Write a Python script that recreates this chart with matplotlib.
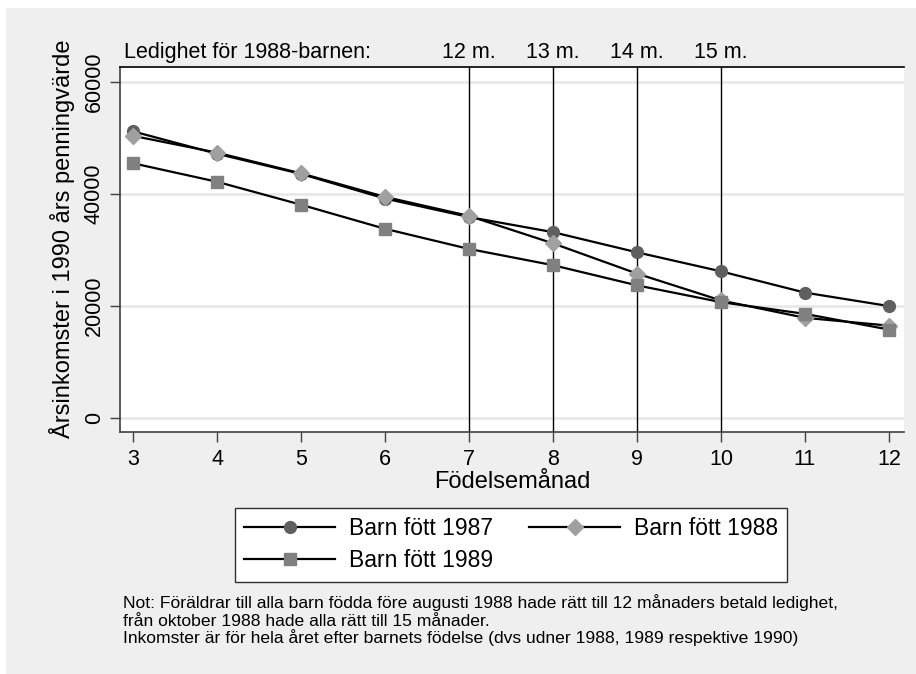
import matplotlib
matplotlib.use("Agg")
import matplotlib.pyplot as plt
from matplotlib.patches import Rectangle
import numpy as np

plt.rcParams["font.family"] = ["Liberation Sans", "DejaVu Sans"]

# data
months = [3, 4, 5, 6, 7, 8, 9, 10, 11, 12]
inc_1987 = [51200, 47200, 43600, 39200, 35900, 33200, 29600, 26200, 22400, 20000]
inc_1988 = [50400, 47400, 43700, 39500, 36100, 31200, 25800, 21000, 17900, 16500]
inc_1989 = [45500, 42200, 38100, 33800, 30200, 27300, 23700, 20700, 18600, 15800]
leave_months = [7, 8, 9, 10]
leave_labels = ["12 m.", "13 m.", "14 m.", "15 m."]
yticks = [0, 20000, 40000, 60000]
note_lines = [
    "Not: Föräldrar till alla barn födda före augusti 1988 hade rätt till 12 månaders betald ledighet,",
    "från oktober 1988 hade alla rätt till 15 månader.",
    "Inkomster är för hela året efter barnets födelse (dvs udner 1988, 1989 respektive 1990)",
]

fs = 15.5
W, H = 916, 674
fig = plt.figure(figsize=(W / 100, H / 100), dpi=100, facecolor="white")
bg = "#efefef"
fig.patches.append(Rectangle((6 / W, 0), 1, 1 - 8 / H, transform=fig.transFigure,
                             facecolor=bg, edgecolor="none", zorder=-10))

# axes in pixel coordinates
L, R, T, B = 120, 904, 67, 432
ax = fig.add_axes([L / W, 1 - B / H, (R - L) / W, (B - T) / H])
ax.set_zorder(1)
ax.set_facecolor("white")

ax.set_xlim(2.845, 12.18)
ax.set_ylim(-2500, 62700)

for y in yticks:
    ax.axhline(y, color="#e6e6e6", lw=1.8, zorder=1)
for m in leave_months:
    ax.axvline(m, color="black", lw=1.0, zorder=2)

lw = 1.6
l1, = ax.plot(months, inc_1987, color="black", lw=lw, marker="o", ms=8.5,
              mfc="#5f5f5f", mec="#5f5f5f", zorder=3, label="Barn fött 1987")
l2, = ax.plot(months, inc_1988, color="black", lw=lw, marker="D", ms=8.5,
              mfc="#a0a0a0", mec="#a0a0a0", zorder=4, label="Barn fött 1988")
l3, = ax.plot(months, inc_1989, color="black", lw=lw, marker="s", ms=8,
              mfc="#808080", mec="#808080", zorder=5, label="Barn fött 1989")

ax.set_xticks(months)
ax.set_yticks(yticks)
ax.set_yticklabels([str(v) for v in yticks], rotation=90, va="center")
ax.tick_params(axis="both", labelsize=fs, length=7, width=1, color="#404040")
ax.tick_params(axis="x", pad=5)
ax.tick_params(axis="y", pad=4)

ax.spines["right"].set_visible(False)
ax.spines["top"].set_color("black")
ax.spines["top"].set_linewidth(1.2)
for s in ["left", "bottom"]:
    ax.spines[s].set_color("#404040")
    ax.spines[s].set_linewidth(1.2)

ax.set_xlabel("Födelsemånad", fontsize=17, labelpad=1)
ax.set_ylabel("Årsinkomster i 1990 års penningvärde", fontsize=17)
ax.yaxis.set_label_coords(-0.058, 0.53)

# leave labels above plot
for m, lab in zip(leave_months, leave_labels):
    ax.text(m, 1.012, lab, transform=ax.get_xaxis_transform(), ha="center",
            va="bottom", fontsize=fs)
fig.text(124 / W, 1 - 58 / H, "Ledighet för 1988-barnen:", ha="left",
         va="baseline", fontsize=fs)

leg = fig.legend([l1, l3, l2], [l1.get_label(), l3.get_label(), l2.get_label()],
                 ncol=2, loc="upper center", bbox_to_anchor=(511 / W, 1 - 508 / H),
                 borderaxespad=0,
                 fontsize=16.5, frameon=True, fancybox=False, edgecolor="#303030",
                 framealpha=1, handlelength=3.95, columnspacing=1.6,
                 handletextpad=0.6, borderpad=0.4, labelspacing=0.4)
leg.get_frame().set_linewidth(1.0)
leg.get_frame().set_facecolor("white")

# note, one line at a time
for i, line in enumerate(note_lines):
    fig.text(123 / W, 1 - (608 + 17.5 * i) / H, line, ha="left", va="baseline",
             fontsize=12.6)

fig.savefig("out.png", dpi=100, facecolor="white")
